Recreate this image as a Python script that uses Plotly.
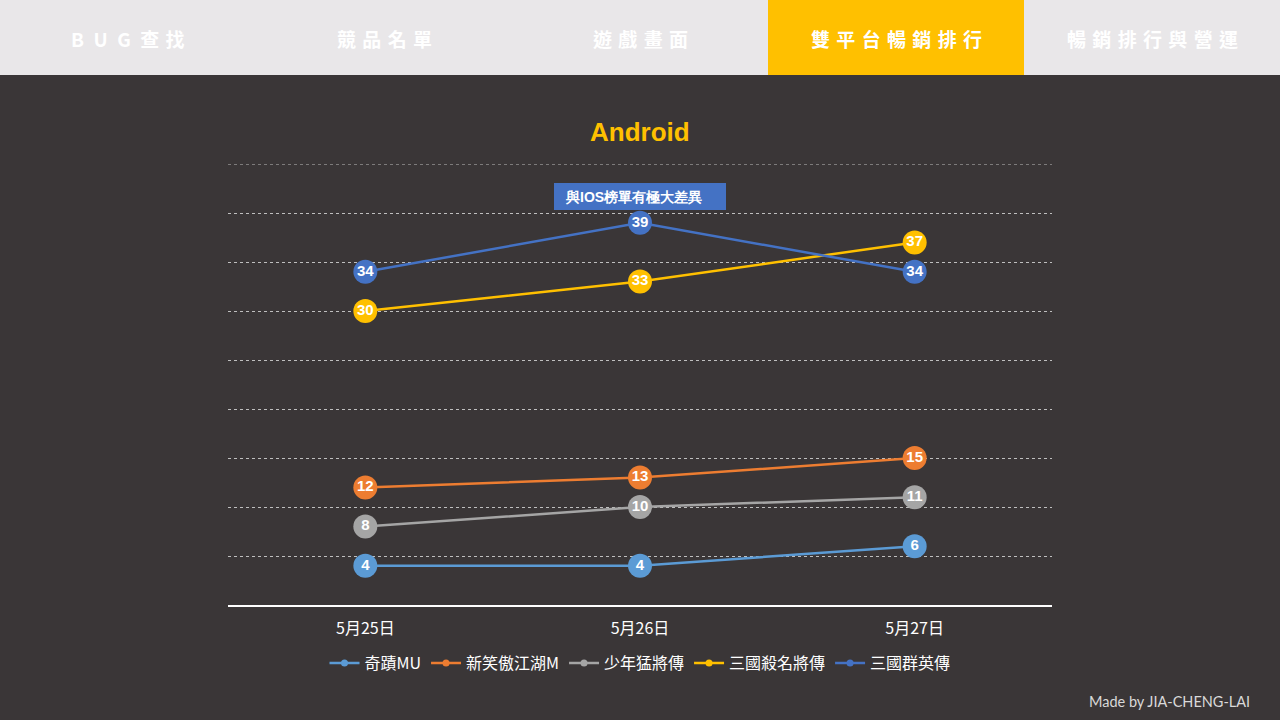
import plotly.graph_objects as go

# tabs across the top (index 3 is the active one)
SP = "\u2004"
TABS = ["B\u2002U\u2002G\u2002查" + SP + "找", SP.join("競品名單"), SP.join("遊戲畫面"),
        SP.join("雙平台暢銷排行"), SP.join("暢銷排行與營運")]
ACTIVE_TAB = 3

DATES = ["5月25日", "5月26日", "5月27日"]
SERIES_NAMES = ["奇蹟MU", "新笑傲江湖M", "少年猛將傳", "三國殺名將傳", "三國群英傳"]
QIJI_MU = [4, 4, 6]
XIAOAO = [12, 13, 15]
SHAONIAN = [8, 10, 11]
SANGUOSHA = [30, 33, 37]
QUNYING = [34, 39, 34]
COLORS = ["#5b9bd5", "#ed7d31", "#a5a5a5", "#ffc000", "#4472c4"]
Y_MAX = 45

BG = "#3a3637"
NAV_BG = "#e9e7e9"
YELLOW = "#ffc000"
CJK = "Noto Sans CJK TC"
ARIAL = "Liberation Sans"

fig = go.Figure()

all_values = [QIJI_MU, XIAOAO, SHAONIAN, SANGUOSHA, QUNYING]

# lines + markers (no legend), labels on top
for name, vals, col in zip(SERIES_NAMES, all_values, COLORS):
    fig.add_trace(go.Scatter(
        x=DATES, y=vals, mode="lines+markers", showlegend=False,
        line=dict(color=col, width=2.5),
        marker=dict(color=col, size=24),
        hoverinfo="skip",
    ))
for vals, col in zip(all_values, COLORS):
    fig.add_trace(go.Scatter(
        x=DATES, y=vals, mode="text", text=[str(v) for v in vals],
        textposition="middle center", showlegend=False,
        textfont=dict(family=ARIAL, size=15, color="white", weight="bold"),
        hoverinfo="skip",
    ))
# small legend entries
for name, col in zip(SERIES_NAMES, COLORS):
    fig.add_trace(go.Scatter(
        x=[None], y=[None], mode="lines+markers", name=name,
        line=dict(color=col, width=2.5), marker=dict(color=col, size=7),
    ))

shapes = [
    dict(type="rect", xref="paper", yref="paper", x0=0, x1=1, y0=1 - 75 / 720, y1=1,
         fillcolor=NAV_BG, line=dict(width=0), layer="below"),
    dict(type="rect", xref="paper", yref="paper",
         x0=ACTIVE_TAB / len(TABS), x1=(ACTIVE_TAB + 1) / len(TABS),
         y0=1 - 75 / 720, y1=1, fillcolor=YELLOW, line=dict(width=0), layer="below"),
    # top gridline at the range edge
    dict(type="line", xref="x domain", yref="y", x0=0, x1=1, y0=Y_MAX, y1=Y_MAX,
         line=dict(color="#bfbfbf", width=1, dash="dot"), layer="below"),
    # note box
    dict(type="rect", xref="paper", yref="paper", x0=554 / 1280, x1=726 / 1280,
         y0=1 - 210 / 720, y1=1 - 183 / 720, fillcolor="#4472c4", line=dict(width=0)),
]

annotations = []
for i, t in enumerate(TABS):
    annotations.append(dict(
        text=t, xref="paper", yref="paper", x=(i + 0.5) / len(TABS), y=1 - 38 / 720,
        showarrow=False, xanchor="center", yanchor="middle",
        font=dict(family=CJK, size=19, color="white", weight="bold"),
    ))
annotations += [
    dict(text="Android", xref="paper", yref="paper", x=0.5, y=1 - 132 / 720,
         showarrow=False, xanchor="center", yanchor="middle",
         font=dict(family=ARIAL, size=26, color=YELLOW, weight="bold")),
    dict(text="與IOS榜單有極大差異", xref="paper", yref="paper", x=563 / 1280, y=1 - 197 / 720,
         showarrow=False, xanchor="left", yanchor="middle",
         font=dict(family=ARIAL, size=14, color="white", weight="bold")),
    dict(text="Made by JIA-CHENG-LAI", xref="paper", yref="paper", x=1252 / 1280, y=1 - 701 / 720,
         showarrow=False, xanchor="right", yanchor="middle",
         font=dict(family="Lato", size=14.5, color="#d9d9d9")),
]

fig.update_layout(
    width=1280, height=720,
    margin=dict(l=0, r=0, t=0, b=0),
    paper_bgcolor=BG, plot_bgcolor=BG,
    shapes=shapes, annotations=annotations,
    legend=dict(orientation="h", x=0.5, xanchor="center", y=1 - 663 / 720, yanchor="middle",
                font=dict(family=CJK, size=16, color="white"), bgcolor="rgba(0,0,0,0)",
                itemwidth=30, tracegroupgap=0),
    xaxis=dict(domain=[228 / 1280, 1052 / 1280], range=[-0.5, 2.5], type="category",
               showgrid=False, showline=True, linecolor="white", linewidth=2,
               ticks="", tickfont=dict(family=CJK, size=16, color="white"), ticklabelstandoff=8),
    yaxis=dict(domain=[1 - 605 / 720, 1 - 164 / 720], range=[0, Y_MAX], dtick=5,
               showgrid=True, gridcolor="#bfbfbf", griddash="dot", gridwidth=1,
               zeroline=False, showticklabels=False, ticks=""),
)

fig.write_html("out.html", config={"displayModeBar": False},
               post_script="document.body.style.margin='0';")
